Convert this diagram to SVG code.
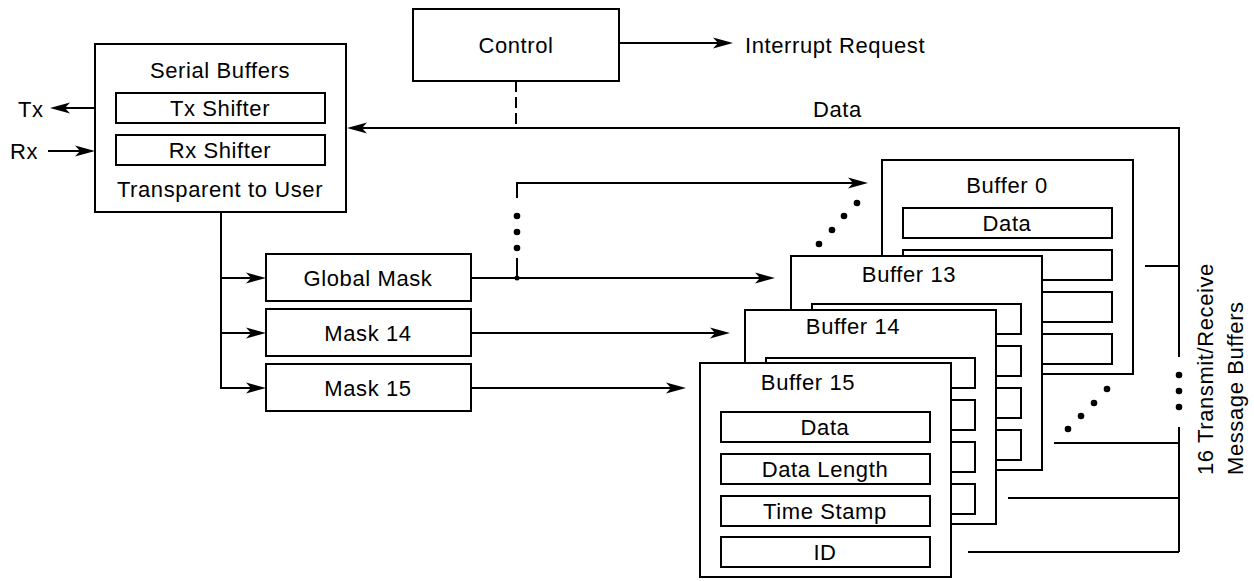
<svg xmlns="http://www.w3.org/2000/svg" width="1254" height="581" viewBox="0 0 1254 581">
<style>
  .box { fill: #fff; stroke: #000; stroke-width: 2; }
  .ln { fill: none; stroke: #000; stroke-width: 2; }
  .arr { fill: none; stroke: #000; stroke-width: 2; marker-end: url(#ah); }
  .t { font-family: "Liberation Sans", Arial, sans-serif; font-size: 22px; letter-spacing: 0.6px; fill: #000; }
  .c { text-anchor: middle; }
  .dot { fill: #000; }
</style>
<defs>
  <marker id="ah" markerUnits="userSpaceOnUse" markerWidth="22" markerHeight="12" refX="16" refY="6" orient="auto">
    <path d="M0,0.5 L20,6 L0,11.5 L5,6 z" fill="#000"/>
  </marker>
</defs>
<rect width="1254" height="581" fill="#fff"/>

<g id="connectors">
  <line class="arr" x1="95" y1="108" x2="54" y2="108"/>
  <line class="arr" x1="48" y1="151" x2="91" y2="151"/>
  <line class="arr" x1="619" y1="43" x2="729" y2="43"/>
  <line class="ln" x1="516" y1="81" x2="516" y2="128" stroke-dasharray="11 5"/>
  <polyline class="arr" points="1179,357 1179,128 351,128"/>
  <line class="ln" x1="1179" y1="427" x2="1179" y2="552"/>
  <line class="ln" x1="1145" y1="266" x2="1179" y2="266"/>
  <line class="ln" x1="1054" y1="443" x2="1179" y2="443"/>
  <line class="ln" x1="1008" y1="498" x2="1179" y2="498"/>
  <line class="ln" x1="968" y1="552" x2="1179" y2="552"/>
  <line class="ln" x1="221" y1="212" x2="221" y2="388"/>
  <line class="arr" x1="220" y1="278" x2="262" y2="278"/>
  <line class="arr" x1="220" y1="333" x2="262" y2="333"/>
  <line class="arr" x1="220" y1="388" x2="262" y2="388"/>
  <line class="arr" x1="471" y1="278" x2="771" y2="278"/>
  <line class="arr" x1="471" y1="333" x2="726" y2="333"/>
  <line class="arr" x1="471" y1="388" x2="682" y2="388"/>
  <line class="ln" x1="517" y1="278" x2="517" y2="258"/>
  <polyline class="arr" points="517,198 517,183 864,183"/>
  <circle class="dot" cx="517" cy="278" r="2.5"/>
  <circle class="dot" cx="517" cy="216" r="3.3"/>
  <circle class="dot" cx="517" cy="232" r="3.3"/>
  <circle class="dot" cx="517" cy="248" r="3.3"/>
  <circle class="dot" cx="819" cy="244" r="3.3"/>
  <circle class="dot" cx="832" cy="230" r="3.3"/>
  <circle class="dot" cx="844" cy="216" r="3.3"/>
  <circle class="dot" cx="857" cy="203" r="3.3"/>
  <circle class="dot" cx="1068" cy="429" r="3.3"/>
  <circle class="dot" cx="1081" cy="416" r="3.3"/>
  <circle class="dot" cx="1094" cy="403" r="3.3"/>
  <circle class="dot" cx="1107" cy="389" r="3.3"/>
  <circle class="dot" cx="1179" cy="375" r="3.3"/>
  <circle class="dot" cx="1179" cy="391" r="3.3"/>
  <circle class="dot" cx="1179" cy="407" r="3.3"/>
</g>

<g id="labels">
  <text class="t" x="18" y="117">Tx</text>
  <text class="t" x="10" y="159">Rx</text>
  <text class="t" x="745" y="53">Interrupt Request</text>
  <text class="t" x="813" y="117">Data</text>
  <text class="t" transform="translate(1213,475) rotate(-90)">16 Transmit/Receive</text>
  <text class="t" transform="translate(1243,475) rotate(-90)">Message Buffers</text>
</g>

<g id="serial-buffers">
  <rect class="box" x="95" y="44" width="251" height="168"/>
  <text class="t c" x="220" y="78">Serial Buffers</text>
  <rect class="box" x="116" y="93" width="209" height="30"/>
  <text class="t c" x="220" y="116">Tx Shifter</text>
  <rect class="box" x="116" y="135" width="209" height="30"/>
  <text class="t c" x="220" y="158">Rx Shifter</text>
  <text class="t c" x="220" y="197">Transparent to User</text>
</g>

<g id="control">
  <rect class="box" x="413" y="9" width="206" height="72"/>
  <text class="t c" x="516" y="53">Control</text>
</g>

<g id="global-mask">
  <rect class="box" x="266" y="254" width="205" height="47"/>
  <text class="t c" x="368" y="286">Global Mask</text>
</g>
<g id="mask-14">
  <rect class="box" x="266" y="309" width="205" height="47"/>
  <text class="t c" x="368" y="341">Mask 14</text>
</g>
<g id="mask-15">
  <rect class="box" x="266" y="364" width="205" height="47"/>
  <text class="t c" x="368" y="396">Mask 15</text>
</g>

<g id="buffer-0">
  <rect class="box" x="882" y="160" width="251" height="214"/>
  <text class="t c" x="1007" y="193">Buffer 0</text>
  <rect class="box" x="903" y="208" width="209" height="30"/>
  <text class="t c" x="1007" y="231">Data</text>
  <rect class="box" x="903" y="250" width="209" height="30"/>
  <rect class="box" x="903" y="292" width="209" height="30"/>
  <rect class="box" x="903" y="334" width="209" height="30"/>
</g>
<g id="buffer-13">
  <rect class="box" x="791" y="256" width="251" height="214"/>
  <text class="t c" x="909" y="282">Buffer 13</text>
  <rect class="box" x="812" y="304" width="209" height="30"/>
  <rect class="box" x="812" y="346" width="209" height="30"/>
  <rect class="box" x="812" y="388" width="209" height="30"/>
  <rect class="box" x="812" y="430" width="209" height="30"/>
</g>
<g id="buffer-14">
  <rect class="box" x="745" y="310" width="251" height="214"/>
  <text class="t c" x="853" y="334">Buffer 14</text>
  <rect class="box" x="766" y="358" width="209" height="30"/>
  <rect class="box" x="766" y="400" width="209" height="30"/>
  <rect class="box" x="766" y="442" width="209" height="30"/>
  <rect class="box" x="766" y="484" width="209" height="30"/>
</g>
<g id="buffer-15">
  <rect class="box" x="700" y="363" width="251" height="214"/>
  <text class="t c" x="808" y="390">Buffer 15</text>
  <rect class="box" x="721" y="412" width="209" height="30"/>
  <text class="t c" x="825" y="435">Data</text>
  <rect class="box" x="721" y="454" width="209" height="30"/>
  <text class="t c" x="825" y="477">Data Length</text>
  <rect class="box" x="721" y="496" width="209" height="30"/>
  <text class="t c" x="825" y="519">Time Stamp</text>
  <rect class="box" x="721" y="537" width="209" height="30"/>
  <text class="t c" x="825" y="560">ID</text>
</g>
</svg>
